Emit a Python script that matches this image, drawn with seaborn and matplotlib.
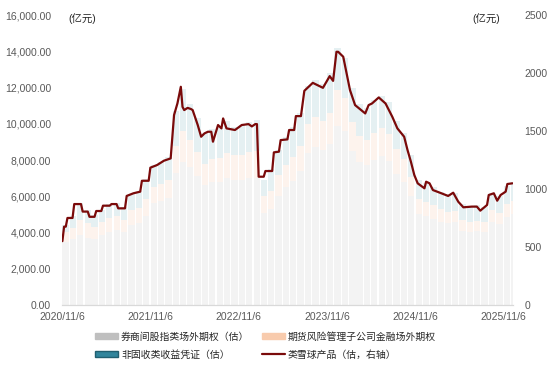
import pandas as pd
import numpy as np
import matplotlib
matplotlib.use("Agg")
import matplotlib.pyplot as plt
from matplotlib.patches import Patch
from matplotlib.lines import Line2D
import seaborn as sns

sns.set_style("white")
plt.rcParams['font.family'] = ['Liberation Sans', 'Noto Sans CJK SC', 'DejaVu Sans']

# monthly stacked bars (亿元, left axis)
months = pd.date_range("2020-11-01", "2025-12-01", freq="MS") + pd.Timedelta(days=5)
grey = [3500, 3650, 3850, 3700, 3650, 3850, 4050, 4150, 4000, 4400, 4500, 4900,
        5600, 5750, 5900, 7300, 7900, 7600, 7100, 6600, 6800, 6800, 7000, 6900,
        6900, 7000, 7000, 5100, 5300, 6000, 6500, 6850, 7400, 8400, 8700, 8550,
        8900, 9900, 9600, 8500, 7900, 7700, 8000, 8200, 7950, 7250, 6800, 6000,
        5000, 4900, 4750, 4600, 4500, 4550, 4100, 4050, 4100, 4000, 4600, 4450,
        4850, 5000]
peach = [500, 600, 850, 800, 650, 700, 750, 750, 700, 850, 850, 950,
         900, 950, 1000, 1500, 1700, 1500, 1350, 1200, 1250, 1300, 1400, 1350,
         1400, 1450, 1500, 900, 1000, 1150, 1250, 1300, 1400, 1600, 1650, 1600,
         1700, 1950, 1850, 1600, 1450, 1400, 1500, 1550, 1500, 1350, 1250, 1050,
         850, 800, 750, 700, 650, 650, 600, 550, 550, 550, 650, 650,
         700, 750]
teal = [400, 650, 950, 750, 650, 700, 750, 750, 700, 900, 950, 1100,
        1200, 1200, 1250, 1900, 2300, 2000, 1850, 1700, 1650, 1650, 1750, 1600,
        1650, 1650, 1700, 900, 1200, 1400, 1500, 1650, 1800, 2100, 2050, 2050,
        2200, 2350, 2200, 1900, 1750, 1750, 1800, 1800, 1750, 1550, 1450, 1250,
        1050, 1050, 1000, 950, 950, 1000, 850, 850, 850, 850, 950, 900,
        1000, 1050]

# 类雪球产品 (亿元, right axis)
snow_dates = ["2020-11-06", "2020-11-13", "2020-11-20", "2020-11-27", "2020-12-18", "2020-12-25",
              "2021-01-22", "2021-01-29", "2021-02-19", "2021-02-26", "2021-03-19", "2021-03-26",
              "2021-04-16", "2021-04-23", "2021-05-21", "2021-05-28", "2021-06-18", "2021-06-25",
              "2021-07-23", "2021-07-30", "2021-08-27", "2021-09-24", "2021-10-01", "2021-10-29",
              "2021-11-05", "2021-12-03", "2021-12-31", "2022-01-28", "2022-02-11", "2022-02-25",
              "2022-03-11", "2022-03-18", "2022-03-25", "2022-04-08", "2022-04-22", "2022-04-29",
              "2022-05-20", "2022-06-03", "2022-06-17", "2022-07-01", "2022-07-15", "2022-07-22",
              "2022-08-12", "2022-08-26", "2022-09-02", "2022-09-16", "2022-10-21", "2022-11-18",
              "2022-12-16", "2022-12-30", "2023-01-13", "2023-01-20", "2023-01-27", "2023-02-17",
              "2023-02-24", "2023-03-24", "2023-03-31", "2023-04-21", "2023-04-28", "2023-05-26",
              "2023-06-02", "2023-06-23", "2023-06-30", "2023-07-21", "2023-08-04", "2023-09-08",
              "2023-10-20", "2023-11-17", "2023-12-01", "2023-12-15", "2023-12-22", "2024-01-12",
              "2024-01-19", "2024-02-09", "2024-03-01", "2024-04-12", "2024-04-26", "2024-05-10",
              "2024-06-07", "2024-07-05", "2024-08-02", "2024-08-23", "2024-09-20", "2024-10-04",
              "2024-10-18", "2024-11-01", "2024-11-15", "2024-12-13", "2024-12-20", "2025-01-03",
              "2025-01-17", "2025-02-21", "2025-03-21", "2025-04-11", "2025-05-02", "2025-05-23",
              "2025-06-27", "2025-07-18", "2025-08-01", "2025-08-29", "2025-09-05", "2025-09-26",
              "2025-10-10", "2025-10-24", "2025-11-14", "2025-11-21", "2025-12-12"]
snow = [550, 675, 675, 750, 750, 870,
        870, 805, 805, 760, 760, 810,
        810, 856, 856, 870, 870, 833,
        833, 940, 963, 977, 1071, 1071,
        1184, 1207, 1244, 1264, 1638, 1739,
        1882, 1709, 1681, 1700, 1690, 1681,
        1552, 1451, 1480, 1494, 1494, 1408,
        1552, 1523, 1609, 1523, 1509, 1552,
        1560, 1540, 1560, 1560, 1106, 1106,
        1155, 1155, 1316, 1322, 1422, 1428,
        1509, 1509, 1629, 1629, 1847, 1916,
        1873, 1974, 1933, 2184, 2184, 2141,
        2069, 1853, 1724, 1652, 1724, 1738,
        1790, 1738, 1623, 1523, 1451, 1336,
        1235, 1121, 1049, 1006, 1063, 1049,
        991, 963, 940, 968, 890, 842,
        848, 848, 813, 862, 948, 963,
        899, 948, 977, 1043, 1049]

tick_dates = ["2020-11-06", "2021-11-06", "2022-11-06", "2023-11-06", "2024-11-06", "2025-11-06"]
tick_labels = ["2020/11/6", "2021/11/6", "2022/11/6", "2023/11/6", "2024/11/6", "2025/11/6"]

c_grey, c_peach, c_teal, c_line = "#bfbfbf", "#f8cbad", "#31859c", "#7a0a0a"
txt = "#595959"

fig = plt.figure(figsize=(5.5, 3.7), dpi=100)
ax = fig.add_axes([0.113, 0.176, 0.82, 0.783])

g = np.array(grey)
p = np.array(peach)
t = np.array(teal)
w = 26
ax.bar(months, g, width=w, align="edge", color=c_grey, alpha=0.18, linewidth=0)
ax.bar(months, p, bottom=g, width=w, align="edge", color=c_peach, alpha=0.22, linewidth=0)
ax.bar(months, t, bottom=g + p, width=w, align="edge", color=c_teal, alpha=0.12, linewidth=0)

ax.set_ylim(0, 16000)
ax.set_yticks(np.arange(0, 16001, 2000))
ax.yaxis.set_major_formatter(matplotlib.ticker.FuncFormatter(lambda v, _: f"{v:,.2f}"))
ax.set_xlim(pd.Timestamp("2020-11-05"), pd.Timestamp("2025-12-15"))
ax.set_xticks(pd.to_datetime(tick_dates))
ax.set_xticklabels(tick_labels)

ax2 = ax.twinx()
line_df = pd.DataFrame({"date": pd.to_datetime(snow_dates), "value": snow})
sns.lineplot(data=line_df, x="date", y="value", ax=ax2, color=c_line, linewidth=1.6,
             sort=False, legend=False)
ax2.set_ylim(0, 2500)
ax2.set_yticks(np.arange(0, 2501, 500))
ax2.set_xlim(ax.get_xlim())
ax2.set_xlabel("")
ax2.set_ylabel("")
ax.set_ylabel("")

for a in (ax, ax2):
    for s in ("top", "left", "right"):
        a.spines[s].set_visible(False)
    a.spines["bottom"].set_color("#d9d9d9")
ax.tick_params(axis="y", length=0, labelsize=7.5, labelcolor=txt, pad=8)
ax2.tick_params(axis="y", length=0, labelsize=7.5, labelcolor=txt, pad=8)
ax.tick_params(axis="x", length=3, color="#d9d9d9", labelsize=7.5, labelcolor=txt, pad=2)
ax2.tick_params(axis="x", length=0, labelbottom=False)

fig.text(0.125, 0.951, "(亿元)", fontsize=7.5, color="#262626", va="center")
fig.text(0.858, 0.951, "(亿元)", fontsize=7.5, color="#262626", va="center")

handles = [Patch(facecolor=c_grey, edgecolor=c_grey),
           Patch(facecolor=c_teal, edgecolor="#215f70"),
           Patch(facecolor=c_peach, edgecolor=c_peach),
           Line2D([0], [0], color=c_line, linewidth=1.6)]
labels = ["券商间股指类场外期权（估）", "非固收类收益凭证（估）",
          "期货风险管理子公司金融场外期权", "类雪球产品（估，右轴）"]
fig.legend(handles, labels, ncol=2, loc="center", bbox_to_anchor=(0.483, 0.066),
           frameon=False, fontsize=7.1, handlelength=2.3, handleheight=0.5,
           handletextpad=0.3, columnspacing=1.3, labelspacing=0.8)

fig.savefig("out.png", dpi=100)
